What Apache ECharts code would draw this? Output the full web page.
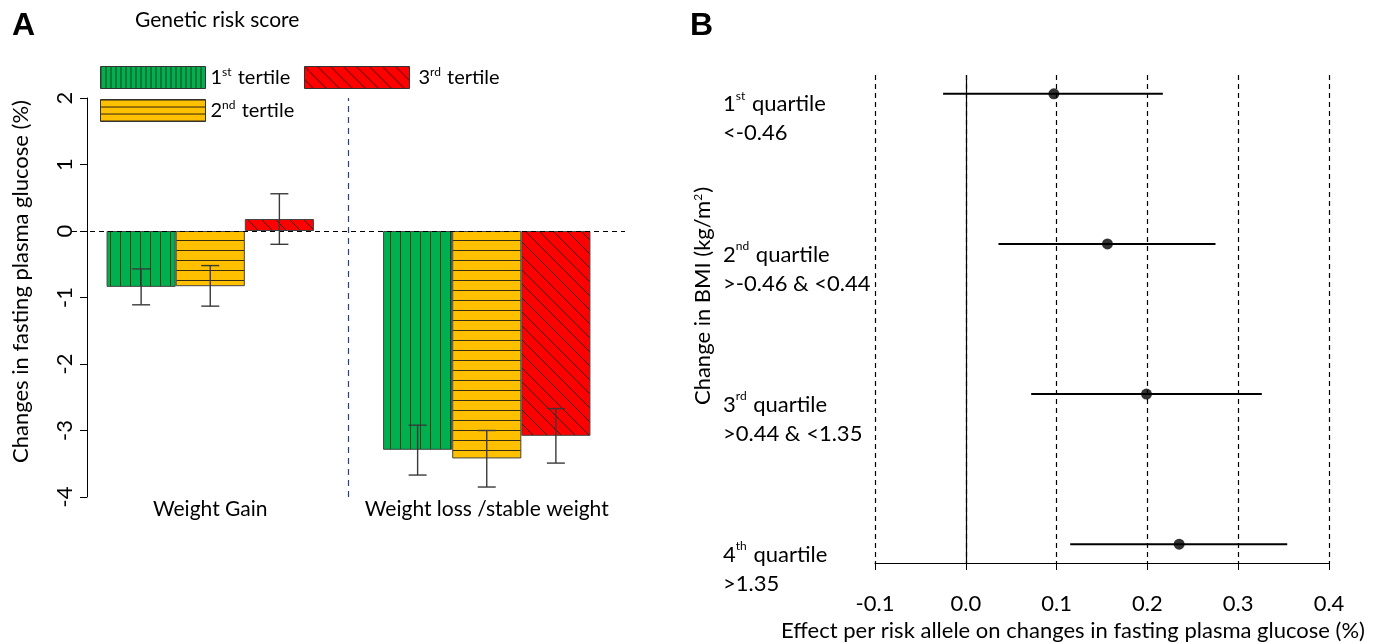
<!DOCTYPE html>
<html>
<head>
<meta charset="utf-8">
<script src="https://cdn.jsdelivr.net/npm/echarts@6/dist/echarts.min.js"></script>
<style>
  html, body { margin: 0; padding: 0; background: #fff; }
  #chart { width: 1383px; height: 642px; }
</style>
</head>
<body>
<div id="chart"></div>
<script>
// ---- panel A: change in fasting plasma glucose by genetic risk score tertile
var groups = ['Weight Gain', 'Weight loss /stable weight'];
var tertiles = ['1st tertile', '2nd tertile', '3rd tertile'];
var meanChange = [
  [-0.84, -3.29],
  [-0.83, -3.42],
  [0.18, -3.08]
];
var errLow = [
  [-1.11, -3.67],
  [-1.13, -3.85],
  [-0.20, -3.49]
];
var errHigh = [
  [-0.57, -2.92],
  [-0.52, -3.00],
  [0.56, -2.67]
];

// ---- panel B: effect per risk allele by BMI change quartile
var quartiles = ['1st quartile', '2nd quartile', '3rd quartile', '4th quartile'];
var bmiRanges = ['<-0.46', '>-0.46 & <0.44', '>0.44 & <1.35', '>1.35'];
var effect = [0.097, 0.156, 0.199, 0.235];
var ciLow = [-0.025, 0.036, 0.072, 0.115];
var ciHigh = [0.217, 0.275, 0.326, 0.354];

var FONT = 'Lato';
var SUP = { fontSize: 12, fontFamily: FONT, color: '#000', verticalAlign: 'top', padding: [0, 1, 10, 0] };

function supText(s) {
  return s.replace(/^(\d)(st|nd|rd|th)/, '$1{sup|$2}');
}

// hatch fills
function pattern(bg, line, kind, s) {
  var c = document.createElement('canvas');
  c.width = s; c.height = s;
  var g = c.getContext('2d');
  g.fillStyle = bg;
  g.fillRect(0, 0, s, s);
  g.strokeStyle = line;
  g.lineWidth = 1;
  g.beginPath();
  if (kind === 'v') { g.moveTo(0.5, 0); g.lineTo(0.5, s); }
  else if (kind === 'h') { g.moveTo(0, 0.5); g.lineTo(s, 0.5); }
  else { g.moveTo(-1, -1); g.lineTo(s + 1, s + 1); }
  g.stroke();
  return { image: c, repeat: 'repeat' };
}
var fills = [
  pattern('#00b04f', '#1d3d20', 'v', 10),
  pattern('#ffc000', '#3a2e10', 'h', 10),
  pattern('#ff0000', '#3a1010', 'd', 14)
];
var legendFills = [
  pattern('#00b04f', '#1d3d20', 'v', 5),
  pattern('#ffc000', '#3a2e10', 'h', 7),
  pattern('#ff0000', '#3a1010', 'd', 13)
];

var chart = echarts.init(document.getElementById('chart'));

var barSeries = tertiles.map(function (name, k) {
  return {
    name: name,
    type: 'bar',
    xAxisIndex: 0,
    yAxisIndex: 0,
    barGap: '0%',
    barCategoryGap: '25%',
    data: meanChange[k],
    itemStyle: { color: fills[k], borderColor: '#444', borderWidth: 1 }
  };
});

var errData = [];
tertiles.forEach(function (t, k) {
  groups.forEach(function (g, i) {
    errData.push([i, errLow[k][i], errHigh[k][i], k]);
  });
});

var ciData = quartiles.map(function (q, i) {
  return [ciLow[i], ciHigh[i], i + 1];
});

var legendPos = [[100, 66], [100, 99], [304, 66]];

var option = {
  animation: false,
  backgroundColor: '#fff',
  textStyle: { fontFamily: FONT },
  title: [
    { text: 'A', left: 12, top: 10, padding: 0, textStyle: { fontSize: 32, fontWeight: 'bold', fontFamily: 'Liberation Sans', color: '#000' } },
    { text: 'B', left: 690, top: 10, padding: 0, textStyle: { fontSize: 32, fontWeight: 'bold', fontFamily: 'Liberation Sans', color: '#000' } },
    { text: 'Genetic risk score', left: 135, top: 10, padding: 0, textStyle: { fontSize: 21, fontWeight: 'normal', fontFamily: FONT, color: '#000' } }
  ],
  legend: tertiles.map(function (name, k) {
    return {
      data: [{ name: name, itemStyle: { color: legendFills[k], borderColor: '#333', borderWidth: 1 } }],
      left: legendPos[k][0],
      top: legendPos[k][1],
      padding: 0,
      icon: 'rect',
      itemWidth: 105,
      itemHeight: 22,
      selectedMode: false,
      formatter: supText,
      textStyle: { fontSize: 20, color: '#000', fontFamily: FONT, padding: [0, 0, 0, k === 2 ? 4 : 0], rich: { sup: SUP } }
    };
  }),
  grid: [
    { left: 72, top: 98, width: 553, height: 399, outerBoundsMode: 'none' },
    { left: 875, top: 75, width: 454, height: 488, outerBoundsMode: 'none' }
  ],
  xAxis: [
    {
      type: 'category', gridIndex: 0, data: groups,
      axisLine: { show: false, onZero: false },
      axisTick: { show: false },
      axisLabel: { fontSize: 21, color: '#000', margin: 2, interval: 0 },
      splitLine: { show: false }
    },
    { type: 'value', gridIndex: 0, min: 0, max: 2, show: false },
    {
      type: 'value', gridIndex: 1, min: -0.1, max: 0.4, interval: 0.1,
      axisLine: { show: true, onZero: false, lineStyle: { color: '#000', width: 1 } },
      axisTick: { show: true, length: 7, lineStyle: { color: '#000' } },
      axisLabel: { fontSize: 22, color: '#000', margin: 30, formatter: function (v) { return v.toFixed(1); } },
      splitLine: { show: true, lineStyle: { color: '#000', type: [5, 4], width: 1.2 } },
      name: 'Effect per risk allele on changes in fasting plasma glucose (%)',
      nameLocation: 'middle',
      nameGap: 57,
      nameTextStyle: { fontSize: 22, color: '#000', padding: [0, 58, 0, 0] }
    }
  ],
  yAxis: [
    {
      type: 'value', gridIndex: 0, min: -4, max: 2, interval: 1,
      offset: -15,
      axisLine: { show: true, lineStyle: { color: '#000', width: 1 } },
      axisTick: { show: true, length: 7, lineStyle: { color: '#000' } },
      axisLabel: { fontSize: 22, color: '#000', rotate: 90, margin: 11 },
      splitLine: { show: false },
      name: 'Changes in fasting plasma glucose (%)',
      nameLocation: 'middle',
      nameRotate: 90,
      nameGap: 55,
      nameTextStyle: { fontSize: 22, color: '#000', padding: [0, 0, 0, 32] }
    },
    {
      type: 'value', gridIndex: 1, min: 0.875, max: 4.125, inverse: true,
      axisLine: { show: false },
      axisTick: { show: false },
      splitLine: { show: false },
      axisLabel: {
        customValues: [1, 2, 3, 4],
        align: 'left',
        verticalAlign: 'top',
        margin: 152,
        padding: [-4, 0, 0, 0],
        fontSize: 22,
        lineHeight: 29,
        color: '#000',
        rich: { sup: SUP },
        formatter: function (v) {
          var i = Math.round(v) - 1;
          return supText(quartiles[i]) + '\n' + bmiRanges[i];
        }
      },
      name: 'Change in BMI (kg/m{sup|2})',
      nameLocation: 'middle',
      nameRotate: 90,
      nameGap: 161,
      nameTextStyle: { fontSize: 22, color: '#000', padding: [0, 0, 0, 46], rich: { sup: SUP } }
    }
  ],
  series: barSeries.concat([
    {
      type: 'custom',
      name: 'err',
      xAxisIndex: 0,
      yAxisIndex: 0,
      data: errData,
      z: 5,
      renderItem: function (params, api) {
        var band = api.size([1, 0])[0];
        var x = api.coord([api.value(0), 0])[0] + (api.value(3) - 1) * band * 0.25;
        var lo = api.coord([api.value(0), api.value(1)])[1];
        var hi = api.coord([api.value(0), api.value(2)])[1];
        var cap = 9;
        var st = { stroke: '#3a3a3a', lineWidth: 1.4 };
        return {
          type: 'group',
          children: [
            { type: 'line', shape: { x1: x, y1: lo, x2: x, y2: hi }, style: st },
            { type: 'line', shape: { x1: x - cap, y1: lo, x2: x + cap, y2: lo }, style: st },
            { type: 'line', shape: { x1: x - cap, y1: hi, x2: x + cap, y2: hi }, style: st }
          ]
        };
      }
    },
    {
      type: 'line',
      name: 'refA',
      xAxisIndex: 1,
      yAxisIndex: 0,
      data: [],
      markLine: {
        silent: true,
        symbol: 'none',
        label: { show: false },
        data: [
          { yAxis: 0, lineStyle: { color: '#000', type: [5, 4], width: 1.2 } },
          { xAxis: 1, lineStyle: { color: '#2a3f8f', type: [6, 5], width: 1.2 } }
        ]
      }
    },
    {
      type: 'custom',
      name: 'ci',
      xAxisIndex: 2,
      yAxisIndex: 1,
      data: ciData,
      z: 5,
      renderItem: function (params, api) {
        var a = api.coord([api.value(0), api.value(2)]);
        var b = api.coord([api.value(1), api.value(2)]);
        return { type: 'line', shape: { x1: a[0], y1: a[1], x2: b[0], y2: b[1] }, style: { stroke: '#000', lineWidth: 2 } };
      },
      markLine: {
        silent: true,
        symbol: 'none',
        label: { show: false },
        data: [{ xAxis: 0, lineStyle: { color: '#000', type: 'solid', width: 1.2 } }]
      }
    },
    {
      type: 'scatter',
      name: 'effect',
      xAxisIndex: 2,
      yAxisIndex: 1,
      symbolSize: 11,
      z: 6,
      itemStyle: { color: '#000' },
      data: effect.map(function (v, i) { return [v, i + 1]; })
    }
  ])
};

chart.setOption(option);
</script>
</body>
</html>
